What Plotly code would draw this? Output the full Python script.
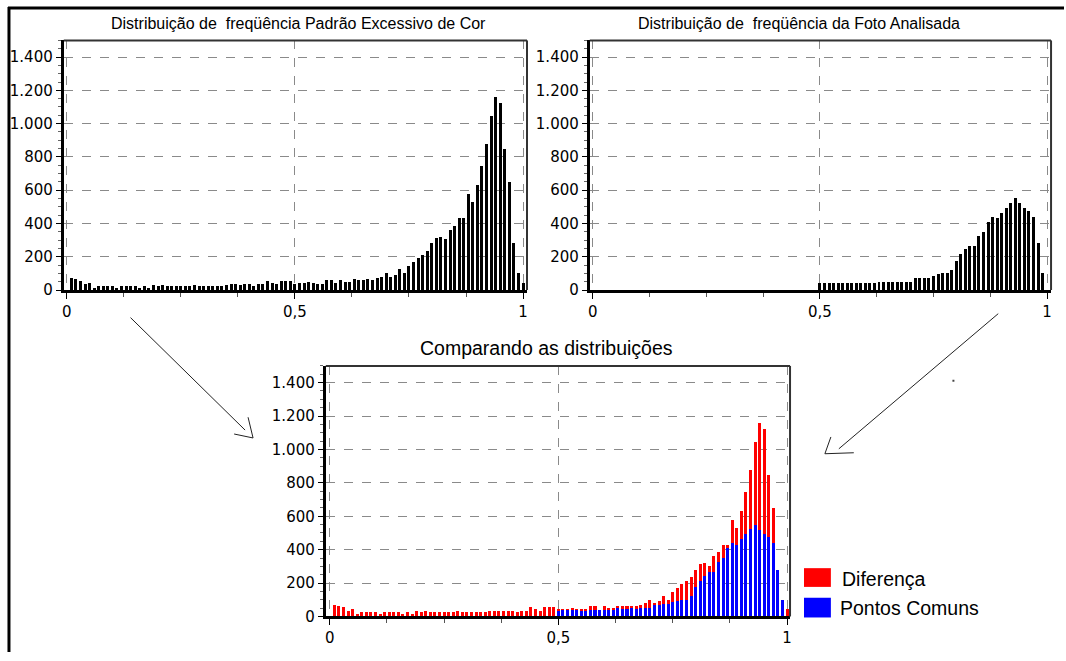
import plotly.graph_objects as go

W, H = 1066, 661

# ---------------- data ----------------
bins = [round(i / 100, 2) for i in range(1, 101)]  # bin centres 0.01 .. 1.00

padrao = [70, 65, 55, 35, 45, 15, 25, 25, 25, 25,
          15, 25, 25, 25, 25, 15, 25, 15, 30, 25,
          30, 25, 25, 25, 25, 25, 25, 30, 25, 25,
          25, 25, 25, 25, 30, 35, 35, 30, 35, 35,
          25, 35, 35, 55, 45, 35, 55, 55, 55, 35,
          45, 45, 50, 45, 35, 35, 60, 60, 40, 60,
          50, 50, 65, 60, 60, 65, 60, 70, 80, 100,
          80, 90, 125, 100, 145, 170, 195, 210, 235, 280,
          315, 320, 305, 360, 385, 430, 430, 575, 530, 630,
          745, 880, 1045, 1160, 1125, 850, 650, 280, 100, 45]

foto = [0] * 49 + [40, 40, 40, 40, 40, 40, 40, 40, 40, 40,
                   40, 40, 40, 50, 50, 50, 50, 50, 50, 50,
                   50, 70, 70, 75, 75, 85, 95, 100, 100, 120,
                   175, 215, 245, 265, 265, 325, 350, 410, 440, 430,
                   465, 495, 525, 550, 520, 495, 475, 440, 280, 100, 0]

ytick_vals = [0, 200, 400, 600, 800, 1000, 1200, 1400]
ytick_text = ["0", "200", "400", "600", "800", "1.000", "1.200", "1.400"]
xtick_vals = [0, 0.5, 1]
xtick_text = ["0", "0,5", "1"]

titles = ["Distribuição de  freqüência Padrão Excessivo de Cor",
          "Distribuição de  freqüência da Foto Analisada",
          "Comparando as distribuições"]
legend_names = ["Diferença", "Pontos Comuns"]

comuns = [min(a, b) for a, b in zip(padrao, foto)]
diferenca = [abs(a - b) for a, b in zip(padrao, foto)]

FONT = "Liberation Sans, Arial, sans-serif"
TICKFONT = "DejaVu Sans, Verdana, sans-serif"
BAR_W = 0.0066


def px(x):
    return x / W


def py(y):
    return 1 - y / H


fig = go.Figure()
fig.add_trace(go.Bar(x=bins, y=padrao, width=BAR_W, marker=dict(color="black", line=dict(width=0)),
                     xaxis="x", yaxis="y", showlegend=False))
fig.add_trace(go.Bar(x=bins, y=foto, width=BAR_W, marker=dict(color="black", line=dict(width=0)),
                     xaxis="x2", yaxis="y2", showlegend=False))
fig.add_trace(go.Bar(x=bins, y=comuns, width=BAR_W, name=legend_names[1],
                     marker=dict(color="#0000FF", line=dict(width=0)),
                     xaxis="x3", yaxis="y3", showlegend=False))
fig.add_trace(go.Bar(x=bins, y=diferenca, width=BAR_W, name=legend_names[0],
                     marker=dict(color="#FF0000", line=dict(width=0)),
                     xaxis="x3", yaxis="y3", showlegend=False))


def xax(domain, anchor, rng):
    return dict(domain=domain, anchor=anchor, range=rng,
                tickvals=xtick_vals, ticktext=xtick_text,
                ticks="outside", ticklen=6, tickcolor="black", tickwidth=1,
                showgrid=True, gridcolor="#8a8a8a", griddash="dash", gridwidth=1,
                showline=True, linecolor="black", linewidth=3, zeroline=False,
                minor=dict(dtick=0.125, tick0=0, ticks="outside", ticklen=4,
                           tickcolor="#555", showgrid=False),
                tickfont=dict(family=TICKFONT, size=15, color="black"), fixedrange=True)


def yax(domain, anchor):
    return dict(domain=domain, anchor=anchor, range=[0, 1500],
                tickvals=ytick_vals, ticktext=ytick_text,
                ticks="outside", ticklen=5, tickcolor="black", tickwidth=1,
                showgrid=True, gridcolor="#8a8a8a", griddash="dash", gridwidth=1,
                showline=True, linecolor="black", linewidth=3, zeroline=False,
                minor=dict(dtick=50, ticks="outside", ticklen=3, tickcolor="#666",
                           showgrid=False),
                tickfont=dict(family=TICKFONT, size=15, color="black"), fixedrange=True)


fig.update_layout(
    width=W, height=H,
    margin=dict(l=0, r=0, t=0, b=0),
    paper_bgcolor="white", plot_bgcolor="white",
    barmode="stack",
    showlegend=False,
    xaxis=xax([px(62), px(527)], "y", [-0.0066, 1.0087]),
    yaxis=yax([py(294), py(41)], "x"),
    xaxis2=xax([px(590), px(1053)], "y2", [-0.0066, 1.0087]),
    yaxis2=yax([py(294), py(41)], "x2"),
    xaxis3=xax([px(325), px(791)], "y3", [-0.0087, 1.0065]),
    yaxis3=yax([py(625), py(371)], "x3"),
)

shapes = []
# plot frames (top and right edges)
for xs, ys in (("x", "y"), ("x2", "y2"), ("x3", "y3")):
    shapes.append(dict(type="line", xref=f"{xs} domain", yref=f"{ys} domain",
                       x0=0, x1=1, y0=1, y1=1, line=dict(color="#333333", width=2)))
    shapes.append(dict(type="line", xref=f"{xs} domain", yref=f"{ys} domain",
                       x0=1, x1=1, y0=0, y1=1, line=dict(color="#333333", width=2)))

# outer border (top and left)
shapes.append(dict(type="line", xref="paper", yref="paper", x0=px(6), x1=1.0,
                   y0=py(8), y1=py(8), line=dict(color="black", width=3)))
shapes.append(dict(type="line", xref="paper", yref="paper", x0=px(7), x1=px(7),
                   y0=py(7), y1=0, line=dict(color="black", width=3)))

# hand-drawn arrows
arrow_segments = [
    (129, 322, 244, 436), (247, 423, 252, 444), (233, 440, 252, 444),
    (1000, 318, 840, 455), (832, 443, 826, 460), (826, 460, 855, 459),
]
for x0, y0, x1, y1 in arrow_segments:
    shapes.append(dict(type="line", xref="paper", yref="paper",
                       x0=px(x0), y0=py(y0), x1=px(x1), y1=py(y1),
                       line=dict(color="#222222", width=1)))
shapes.append(dict(type="rect", xref="paper", yref="paper",
                   x0=px(954), x1=px(956), y0=py(387), y1=py(385),
                   line=dict(width=0), fillcolor="#444"))

# legend swatches
shapes.append(dict(type="rect", xref="paper", yref="paper", x0=px(805), x1=px(832),
                   y0=py(595), y1=py(576), fillcolor="#FF0000", line=dict(width=0)))
shapes.append(dict(type="rect", xref="paper", yref="paper", x0=px(805), x1=px(832),
                   y0=py(626), y1=py(606), fillcolor="#0000FF", line=dict(width=0)))

annotations = [
    dict(text=titles[0], x=px(298), y=py(24), xref="paper", yref="paper",
         showarrow=False, xanchor="center", yanchor="middle",
         font=dict(family=FONT, size=16, color="black")),
    dict(text=titles[1], x=px(800), y=py(24), xref="paper", yref="paper",
         showarrow=False, xanchor="center", yanchor="middle",
         font=dict(family=FONT, size=16, color="black")),
    dict(text=titles[2], x=px(547), y=py(353), xref="paper", yref="paper",
         showarrow=False, xanchor="center", yanchor="middle",
         font=dict(family=FONT, size=19.5, color="black")),
    dict(text=legend_names[0], x=px(841), y=py(587), xref="paper", yref="paper",
         showarrow=False, xanchor="left", yanchor="middle",
         font=dict(family=FONT, size=19.5, color="black")),
    dict(text=legend_names[1], x=px(839), y=py(616), xref="paper", yref="paper",
         showarrow=False, xanchor="left", yanchor="middle",
         font=dict(family=FONT, size=19.5, color="black")),
]

fig.update_layout(shapes=shapes, annotations=annotations)
fig.write_html("out.html", post_script="document.body.style.margin='0px';",
               config={"displayModeBar": False})
